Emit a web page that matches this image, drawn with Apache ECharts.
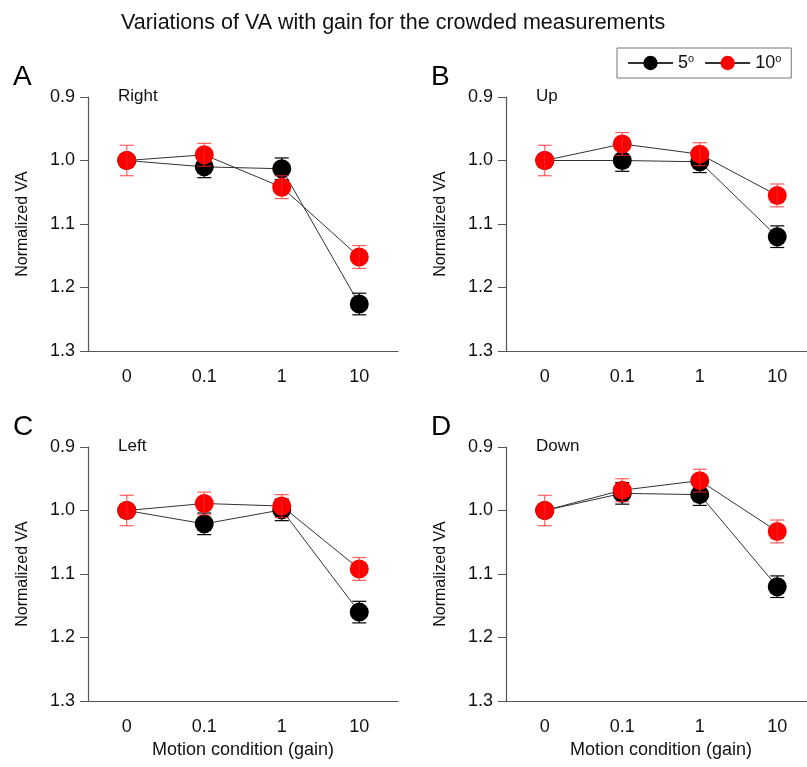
<!DOCTYPE html>
<html>
<head>
<meta charset="utf-8">
<script src="https://cdn.jsdelivr.net/npm/echarts@6/dist/echarts.min.js"></script>
<style>
  html, body { margin: 0; padding: 0; background: #fff; overflow: hidden; }
  #main { width: 822px; height: 767px; }
</style>
</head>
<body>
<div id="main"></div>
<script>
// gain conditions on the x axis
var gains = ['0', '0.1', '1', '10'];
var yTicks = [0.9, 1.0, 1.1, 1.2, 1.3];

// normalized VA, 5 deg (black) and 10 deg (red)
var rightBlack = [1.000, 1.010, 1.013, 1.226];
var rightRed   = [1.000, 0.991, 1.042, 1.152];
var upBlack    = [1.000, 1.000, 1.002, 1.120];
var upRed      = [1.000, 0.974, 0.990, 1.055];
var leftBlack  = [1.000, 1.021, 0.999, 1.160];
var leftRed    = [1.000, 0.989, 0.993, 1.092];
var downBlack  = [1.000, 0.973, 0.975, 1.120];
var downRed    = [1.000, 0.968, 0.953, 1.033];

// error bar half-lengths
var blackErr = [0, 0.017, 0.017, 0.017];
var redErr   = [0.024, 0.018, 0.018, 0.018];

var FONT = 'Liberation Sans';

var panels = [
  { letter: 'A', name: 'Right', black: rightBlack, red: rightRed, left: 88,  top: 97 },
  { letter: 'B', name: 'Up',    black: upBlack,    red: upRed,    left: 506, top: 97 },
  { letter: 'C', name: 'Left',  black: leftBlack,  red: leftRed,  left: 88,  top: 447 },
  { letter: 'D', name: 'Down',  black: downBlack,  red: downRed,  left: 506, top: 447 }
];

var chart = echarts.init(document.getElementById('main'));

function errorSeries(idx, vals, errs, color, z) {
  return {
    type: 'custom',
    xAxisIndex: idx,
    yAxisIndex: idx,
    z: z,
    silent: true,
    data: vals.map(function (v, i) { return [i, v, errs[i]]; }),
    renderItem: function (params, api) {
      var x = api.value(0), v = api.value(1), e = api.value(2);
      if (!e) return null;
      var p1 = api.coord([x, v - e]);
      var p2 = api.coord([x, v + e]);
      var hw = 7;
      var st = { stroke: color, lineWidth: 1.2 };
      return {
        type: 'group',
        children: [
          { type: 'line', shape: { x1: p1[0], y1: p1[1], x2: p2[0], y2: p2[1] }, style: st },
          { type: 'line', shape: { x1: p1[0] - hw, y1: p1[1], x2: p1[0] + hw, y2: p1[1] }, style: st },
          { type: 'line', shape: { x1: p2[0] - hw, y1: p2[1], x2: p2[0] + hw, y2: p2[1] }, style: st }
        ]
      };
    }
  };
}

var grids = [], xAxes = [], yAxes = [], series = [], graphics = [];

panels.forEach(function (p, i) {
  grids.push({ left: p.left, top: p.top, width: 310, height: 254, containLabel: false });
  xAxes.push({
    type: 'category',
    gridIndex: i,
    data: gains,
    boundaryGap: true,
    name: i >= 2 ? 'Motion condition (gain)' : '',
    nameLocation: 'middle',
    nameGap: 40,
    nameTextStyle: { fontFamily: FONT, fontSize: 18, color: '#111' },
    axisLine: { lineStyle: { color: '#555', width: 1.2 } },
    axisTick: { alignWithLabel: true, length: 9, lineStyle: { color: '#555' } },
    axisLabel: { fontFamily: FONT, fontSize: 18, color: '#111', margin: 17 },
    splitLine: { show: false }
  });
  yAxes.push({
    type: 'value',
    gridIndex: i,
    inverse: true,
    min: yTicks[0],
    max: yTicks[yTicks.length - 1],
    interval: 0.1,
    name: 'Normalized VA',
    nameLocation: 'middle',
    nameGap: 57,
    nameTextStyle: { fontFamily: FONT, fontSize: 16, color: '#111' },
    axisLine: { show: true, lineStyle: { color: '#555', width: 1.2 } },
    axisTick: { show: true, length: 8, lineStyle: { color: '#555' } },
    axisLabel: {
      fontFamily: FONT, fontSize: 18, color: '#111', margin: 13,
      formatter: function (v) { return v.toFixed(1); }
    },
    splitLine: { show: false }
  });

  series.push({
    name: '5', type: 'line', xAxisIndex: i, yAxisIndex: i, z: 2,
    data: p.black, symbol: 'circle', symbolSize: 19,
    itemStyle: { color: '#000' },
    lineStyle: { color: '#333', width: 1 }
  });
  series.push(errorSeries(i, p.black, blackErr, '#000', 3));
  series.push({
    name: '10', type: 'line', xAxisIndex: i, yAxisIndex: i, z: 4,
    data: p.red, symbol: 'circle', symbolSize: 19,
    itemStyle: { color: '#ff0000' },
    lineStyle: { color: '#333', width: 1 }
  });
  series.push(errorSeries(i, p.red, redErr, 'rgba(255,40,40,0.75)', 5));

  graphics.push({
    type: 'text', left: p.left - 75, top: p.top - 34,
    style: { text: p.letter, font: '28px ' + FONT, fill: '#000' }
  });
  graphics.push({
    type: 'text', left: p.left + 30, top: p.top - 9,
    style: { text: p.name, font: '17px ' + FONT, fill: '#111' }
  });
});

chart.setOption({
  animation: false,
  backgroundColor: '#fff',
  title: {
    text: 'Variations of VA with gain for the crowded measurements',
    left: 116, top: 7,
    textStyle: { fontFamily: FONT, fontSize: 21.5, fontWeight: 'normal', color: '#111' }
  },
  legend: {
    data: ['5', '10'],
    left: 617, top: 48,
    itemWidth: 45, itemHeight: 18, itemGap: 10,
    padding: [5, 10, 5, 10],
    borderColor: '#777', borderWidth: 1,
    formatter: function (name) { return '{n|' + name + '}{s|o}'; },
    textStyle: {
      fontFamily: FONT, color: '#111',
      rich: {
        n: { fontFamily: FONT, fontSize: 18, color: '#111', lineHeight: 20 },
        s: { fontFamily: FONT, fontSize: 11, color: '#111', verticalAlign: 'top', lineHeight: 10, padding: [0, 0, 9, 0] }
      }
    }
  },
  grid: grids,
  xAxis: xAxes,
  yAxis: yAxes,
  series: series,
  graphic: graphics
});
</script>
</body>
</html>
